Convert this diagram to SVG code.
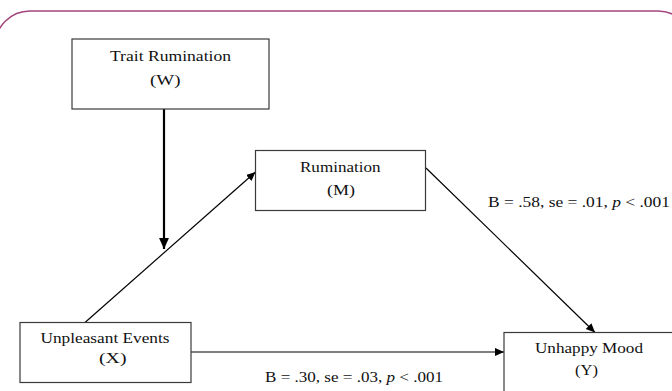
<svg xmlns="http://www.w3.org/2000/svg" width="672" height="391" viewBox="0 0 672 391">
<defs>
<style>
.box{fill:#ffffff;stroke:#3a3a3a;stroke-width:1.2}
.t{font-family:"Liberation Serif","Times New Roman",serif;font-size:14px;fill:#111}
.c{stroke:#000;stroke-width:1.2;fill:none}
.thick{stroke-width:2.2}
</style>
<marker id="ah" viewBox="0 0 10 10" refX="10" refY="5" markerWidth="9" markerHeight="9" markerUnits="userSpaceOnUse" orient="auto">
<path d="M0,0.5 L10,5 L0,9.5 Z" fill="#000"/>
</marker>
<marker id="ah2" viewBox="0 0 10 10" refX="10" refY="5" markerWidth="11" markerHeight="11" markerUnits="userSpaceOnUse" orient="auto">
<path d="M0,0.5 L10,5 L0,9.5 Z" fill="#000"/>
</marker>
</defs>
<rect width="672" height="391" fill="#ffffff"/>
<rect x="-5" y="11" width="698" height="420" rx="35" ry="35" fill="none" stroke="#a4467e" stroke-width="1.5"/>
<g id="connectors">
<line class="c thick" x1="164" y1="109" x2="164" y2="249" marker-end="url(#ah2)"/>
<line class="c" x1="85" y1="322.5" x2="255.5" y2="172" marker-end="url(#ah)"/>
<line class="c" x1="426" y1="168" x2="595" y2="332.5" marker-end="url(#ah)"/>
<line class="c" x1="191" y1="352" x2="504" y2="352" marker-end="url(#ah)"/>
<text class="t" x="488" y="207" textLength="182" lengthAdjust="spacingAndGlyphs">B = .58, se = .01, <tspan font-style="italic">p</tspan> &lt; .001</text>
<text class="t" x="265" y="382" textLength="178" lengthAdjust="spacingAndGlyphs">B = .30, se = .03, <tspan font-style="italic">p</tspan> &lt; .001</text>
</g>
<g id="node-W">
<rect class="box" x="72" y="39" width="197" height="70"/>
<text class="t" x="110" y="60.5" textLength="121" lengthAdjust="spacingAndGlyphs">Trait Rumination</text>
<text class="t" x="150" y="85" textLength="30.5" lengthAdjust="spacingAndGlyphs">(W)</text>
</g>
<g id="node-M">
<rect class="box" x="255.5" y="150.5" width="170" height="60"/>
<text class="t" x="300" y="171.5" textLength="80.5" lengthAdjust="spacingAndGlyphs">Rumination</text>
<text class="t" x="327" y="195" textLength="28" lengthAdjust="spacingAndGlyphs">(M)</text>
</g>
<g id="node-X">
<rect class="box" x="20" y="322.5" width="171" height="60"/>
<text class="t" x="40.5" y="343" textLength="129" lengthAdjust="spacingAndGlyphs">Unpleasant Events</text>
<text class="t" x="99" y="363" textLength="27.5" lengthAdjust="spacingAndGlyphs">(X)</text>
</g>
<g id="node-Y">
<rect class="box" x="504" y="332.5" width="180" height="70"/>
<text class="t" x="535" y="353" textLength="108" lengthAdjust="spacingAndGlyphs">Unhappy Mood</text>
<text class="t" x="575" y="375" textLength="23" lengthAdjust="spacingAndGlyphs">(Y)</text>
</g>
</svg>
